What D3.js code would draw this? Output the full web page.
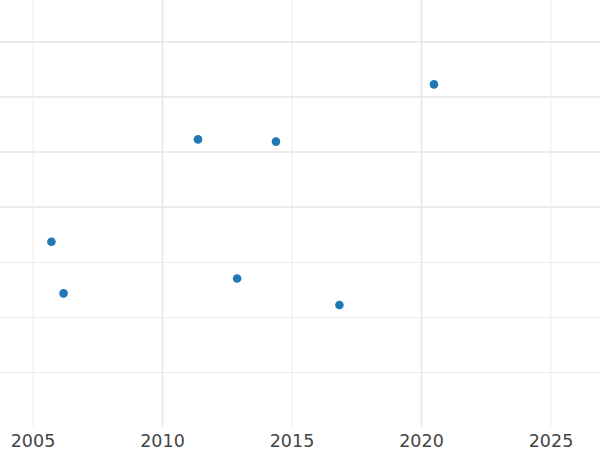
<!DOCTYPE html>
<html>
<head>
<meta charset="utf-8">
<script src="https://cdn.jsdelivr.net/npm/d3@7"></script>
<style>
  body { margin: 0; background: #fff; }
</style>
</head>
<body>
<svg width="600" height="450"></svg>
<script>
// data
var years = [2005.73, 2006.2, 2011.39, 2012.9, 2014.4, 2016.85, 2020.5];
var values = [3.36, 2.42, 5.22, 2.69, 5.18, 2.21, 6.22];
var xTicks = [2005, 2010, 2015, 2020, 2025];
var yTicks = [1, 2, 3, 4, 5, 6, 7];

var svg = d3.select("svg"),
    width = +svg.attr("width"),
    height = +svg.attr("height");

var bottom = 426.5;

// x: 2005 -> 32.5, 2025 -> 550.5
var x = d3.scaleLinear()
    .domain([2005, 2025])
    .range([32.5, 550.5]);

var y = d3.scaleLinear()
    .domain([0, 7])
    .range([bottom, bottom - 7 * 55]);

// horizontal grid, upper lines heavier
svg.append("g")
    .selectAll("line")
    .data(yTicks)
    .enter()
    .append("line")
    .attr("x1", 0)
    .attr("x2", width)
    .attr("y1", function (d) { return Math.round(y(d)) + (d >= 4 ? 0 : 0.5); })
    .attr("y2", function (d) { return Math.round(y(d)) + (d >= 4 ? 0 : 0.5); })
    .style("stroke", "#ebebeb")
    .style("stroke-width", function (d) { return d >= 4 ? 2 : 1; });

// vertical grid, 2010 and 2020 heavier
var xAxis = d3.axisBottom(x)
    .tickValues(xTicks)
    .tickFormat(d3.format("d"))
    .tickSize(-bottom)
    .tickPadding(8);

var gx = svg.append("g")
    .attr("transform", "translate(0," + bottom + ")")
    .call(xAxis);

gx.select(".domain").remove();
gx.selectAll(".tick line")
    .style("stroke", "#ebebeb")
    .style("stroke-width", function (d) { return d % 10 === 0 ? 2 : 1; });
gx.selectAll(".tick text")
    .attr("fill", "#444")
    .attr("font-family", "DejaVu Sans")
    .attr("font-size", "17.5px");

// points
svg.append("g")
    .selectAll("circle")
    .data(years)
    .enter()
    .append("circle")
    .attr("cx", function (d) { return x(d); })
    .attr("cy", function (d, i) { return y(values[i]); })
    .attr("r", 4.3)
    .style("fill", "#1f77b4");
</script>
</body>
</html>
